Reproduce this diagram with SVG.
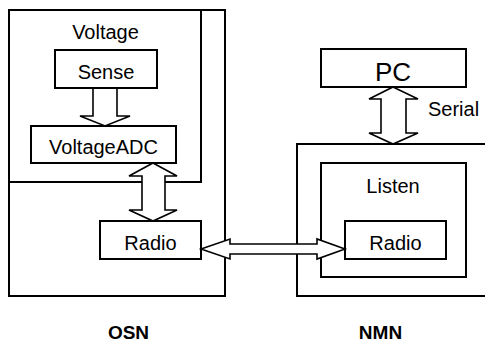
<svg xmlns="http://www.w3.org/2000/svg" width="485" height="347" viewBox="0 0 485 347">
<style>
.box{fill:none;stroke:#000;stroke-width:2}
.arr{fill:#fff;stroke:#000;stroke-width:1.6;stroke-linejoin:miter}
text{font-family:"Liberation Sans",Arial,sans-serif;font-size:20px;fill:#000;text-anchor:middle}
.big{font-size:26px}
.bold{font-weight:bold;font-size:19px}
</style>
<rect width="485" height="347" fill="#fff"/>
<g id="osn">
<rect class="box" x="9" y="10" width="216" height="286"/>
<text class="bold" x="128.5" y="339">OSN</text>
</g>
<g id="voltage">
<rect class="box" x="9" y="10" width="192" height="172"/>
<text x="105.5" y="39">Voltage</text>
</g>
<g id="nmn">
<path class="box" d="M487 144H297V296H487"/>
<text class="bold" x="380.5" y="339">NMN</text>
</g>
<g id="listen">
<rect class="box" x="321" y="163" width="145" height="114"/>
<text x="393" y="193">Listen</text>
</g>
<g id="connectors">
<polygon class="arr" points="93,88 93,116 80,116 105,126 130,116 117,116 117,88"/>
<polygon class="arr" points="153,163 177,176 165,176 165,210 177,210 153,221 129,210 142,210 142,176 129,176"/>
<polygon class="arr" points="201,249 230,239 230,244 317,244 317,239 345,249 317,259 317,254 230,254 230,259"/>
<polygon class="arr" points="393,87 418,99 406,99 406,133 418,133 393,144 369,133 381,133 381,99 369,99"/>
<text x="428" y="116" style="text-anchor:start">Serial</text>
</g>
<g id="sense">
<rect class="box" x="55" y="50" width="102" height="38" fill="#fff"/>
<text x="106" y="79">Sense</text>
</g>
<g id="voltageadc">
<rect class="box" x="31" y="126" width="145" height="37"/>
<text x="103.5" y="154">VoltageADC</text>
</g>
<g id="radio-osn">
<rect class="box" x="100" y="221" width="101" height="38"/>
<text x="150.5" y="250">Radio</text>
</g>
<g id="pc">
<rect class="box" x="321" y="49" width="145" height="38"/>
<text class="big" x="393" y="81">PC</text>
</g>
<g id="radio-nmn">
<rect class="box" x="345" y="221" width="101" height="38"/>
<text x="395.5" y="250">Radio</text>
</g>
</svg>
